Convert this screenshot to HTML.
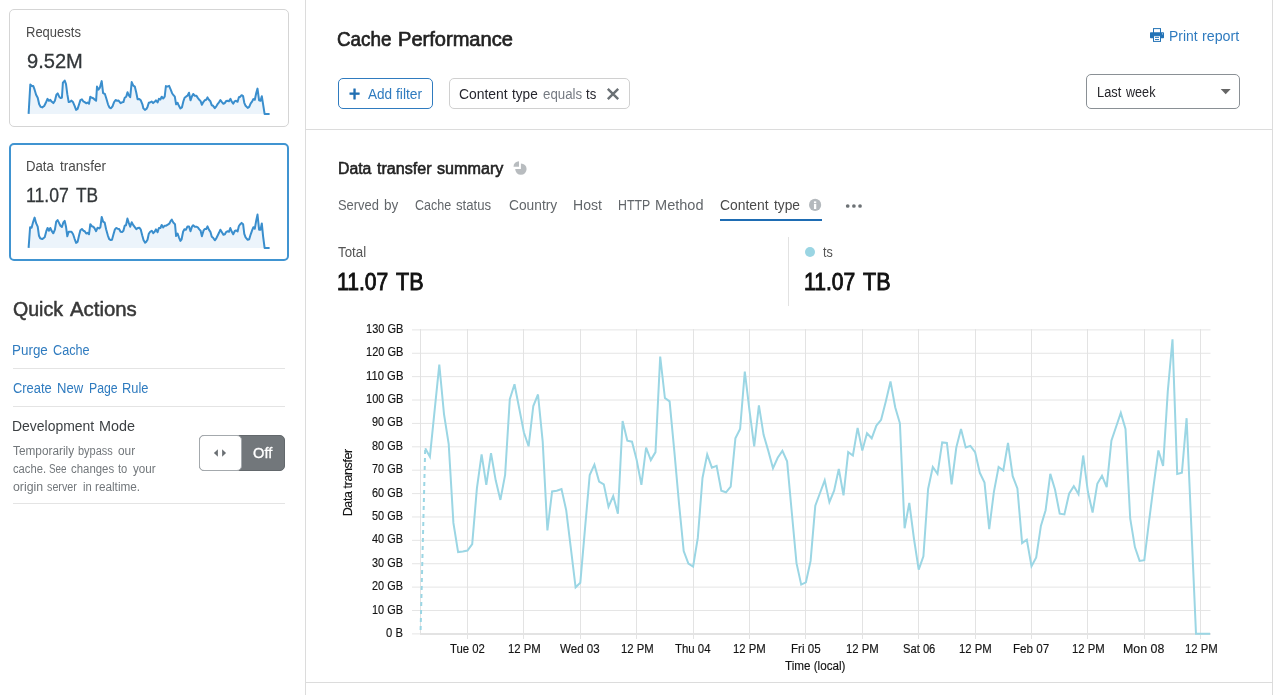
<!DOCTYPE html>
<html lang="en"><head><meta charset="utf-8"><title>Cache Performance</title>
<style>
html,body{margin:0;padding:0;background:#fff;}
body{width:1285px;height:695px;position:relative;overflow:hidden;font-family:"Liberation Sans", Arial, sans-serif;}
.t{position:absolute;white-space:nowrap;display:block;transform-origin:0 50%;}
.abs{position:absolute;box-sizing:border-box;}
svg{position:absolute;left:0;top:0;}
</style></head><body>
<div class="abs" style="left:305px;top:0;width:1px;height:695px;background:#dcdcdc"></div>
<div class="abs" style="left:1272px;top:0;width:1px;height:695px;background:#dcdcdc"></div>
<div class="abs" style="left:306px;top:129px;width:966px;height:1px;background:#dcdcdc"></div>
<div class="abs" style="left:306px;top:682px;width:966px;height:1px;background:#dcdcdc"></div>
<!-- cards -->
<div class="abs" style="left:9px;top:9px;width:280px;height:118px;border:1px solid #d5d5d5;border-radius:5px"></div>
<div class="abs" style="left:9px;top:143px;width:280px;height:118px;border:2px solid #4094d1;border-radius:5px"></div>
<!-- quick action dividers -->
<div class="abs" style="left:13px;top:368px;width:272px;height:1px;background:#e4e4e4"></div>
<div class="abs" style="left:13px;top:406px;width:272px;height:1px;background:#e4e4e4"></div>
<div class="abs" style="left:13px;top:503px;width:272px;height:1px;background:#e4e4e4"></div>
<!-- toggle -->
<div class="abs" style="left:199px;top:435px;width:86px;height:36px;border:1px solid #63686c;border-radius:5px;background:#72777b"></div>
<div class="abs" style="left:199px;top:435px;width:43px;height:36px;border:1px solid #a4a9ad;border-radius:5px;background:#fff"></div>
<!-- buttons -->
<div class="abs" style="left:338px;top:78px;width:95px;height:31px;border:1px solid #2f7bbf;border-radius:5px"></div>
<div class="abs" style="left:449px;top:78px;width:181px;height:31px;border:1px solid #d0d0d0;border-radius:5px"></div>
<div class="abs" style="left:1086px;top:74px;width:154px;height:35px;border:1px solid #8a9095;border-radius:5px"></div>
<!-- tab underline / divider -->
<div class="abs" style="left:720px;top:219px;width:102px;height:2px;background:#1e6cb3"></div>
<div class="abs" style="left:788px;top:237px;width:1px;height:69px;background:#e2e2e2"></div>
<div class="abs" style="left:805px;top:247px;width:10px;height:10px;border-radius:50%;background:#9ad5e3"></div>
<svg width="1285" height="695" viewBox="0 0 1285 695">
<polygon points="28.6,113.9 30.3,84.6 31.9,86.1 33.3,86.1 34.6,89.7 36.1,94.7 37.7,97.8 39.2,104.3 40.7,106.9 42.2,107.4 44.2,106.0 45.8,102.8 47.5,98.8 48.8,100.8 50.3,99.8 51.8,101.8 53.3,103.1 54.9,100.8 56.4,94.7 57.7,93.4 59.2,96.7 60.6,98.1 61.9,97.8 62.9,82.6 64.7,80.6 66.0,84.1 67.3,94.2 68.7,102.1 70.0,101.8 71.5,100.6 73.1,102.3 74.6,105.8 76.1,109.9 77.6,108.9 79.1,104.3 80.4,100.1 81.9,99.3 83.2,101.3 84.7,102.1 86.2,103.3 87.5,102.5 89.0,103.8 90.3,96.7 91.8,97.8 93.3,98.3 94.8,99.8 96.1,100.8 97.0,86.6 98.4,89.7 99.9,87.6 101.7,81.1 103.1,93.2 104.9,94.0 106.4,98.8 108.0,104.3 109.5,107.6 111.0,108.2 112.5,106.3 114.0,102.3 115.6,100.0 117.1,100.8 118.6,100.6 120.6,103.1 122.1,102.3 123.4,102.1 124.7,97.8 126.2,96.7 127.5,92.2 128.7,95.2 130.2,97.2 131.7,82.1 133.3,85.6 134.8,86.6 136.3,92.7 137.6,99.3 139.3,99.1 140.8,100.3 142.4,104.3 143.4,108.4 144.9,109.9 146.4,108.9 147.5,106.9 148.8,102.8 150.0,102.5 151.6,101.5 153.1,103.1 154.6,101.8 155.9,100.3 157.6,102.5 158.9,98.8 160.4,99.5 161.7,96.7 163.2,98.5 164.7,96.7 165.9,86.1 167.2,86.6 169.1,85.9 170.5,89.2 172.1,93.2 173.5,95.2 174.8,96.7 176.1,104.3 177.6,102.8 178.9,105.8 180.4,108.4 181.9,107.4 183.4,101.3 184.6,97.8 186.0,96.7 187.5,95.7 189.0,92.7 190.5,100.3 192.0,96.2 193.2,94.0 194.8,95.7 196.3,95.7 197.8,97.8 199.3,99.8 200.6,101.1 201.9,104.8 203.5,101.8 204.7,100.3 206.2,99.8 207.5,97.4 208.9,99.8 210.4,101.3 211.8,105.3 213.1,105.8 214.8,108.2 216.3,106.3 217.8,103.8 219.0,102.3 220.4,100.1 221.9,102.1 223.4,103.8 224.9,102.8 226.1,101.1 227.7,100.8 229.0,101.3 230.5,98.8 231.8,101.8 233.2,103.8 234.8,101.1 236.0,100.8 237.6,101.8 238.9,97.2 240.3,96.7 241.6,95.2 243.1,96.2 244.3,102.8 245.6,105.8 247.7,107.9 249.2,106.9 250.7,103.3 252.2,101.3 253.4,99.1 254.8,99.8 256.3,92.7 257.5,88.6 259.1,100.3 260.5,100.8 261.8,96.2 263.1,104.3 264.6,113.9 269.6,113.9 269.6,113.9 28.6,113.9" fill="#ecf4fb"/>
<polyline points="28.6,113.9 30.3,84.6 31.9,86.1 33.3,86.1 34.6,89.7 36.1,94.7 37.7,97.8 39.2,104.3 40.7,106.9 42.2,107.4 44.2,106.0 45.8,102.8 47.5,98.8 48.8,100.8 50.3,99.8 51.8,101.8 53.3,103.1 54.9,100.8 56.4,94.7 57.7,93.4 59.2,96.7 60.6,98.1 61.9,97.8 62.9,82.6 64.7,80.6 66.0,84.1 67.3,94.2 68.7,102.1 70.0,101.8 71.5,100.6 73.1,102.3 74.6,105.8 76.1,109.9 77.6,108.9 79.1,104.3 80.4,100.1 81.9,99.3 83.2,101.3 84.7,102.1 86.2,103.3 87.5,102.5 89.0,103.8 90.3,96.7 91.8,97.8 93.3,98.3 94.8,99.8 96.1,100.8 97.0,86.6 98.4,89.7 99.9,87.6 101.7,81.1 103.1,93.2 104.9,94.0 106.4,98.8 108.0,104.3 109.5,107.6 111.0,108.2 112.5,106.3 114.0,102.3 115.6,100.0 117.1,100.8 118.6,100.6 120.6,103.1 122.1,102.3 123.4,102.1 124.7,97.8 126.2,96.7 127.5,92.2 128.7,95.2 130.2,97.2 131.7,82.1 133.3,85.6 134.8,86.6 136.3,92.7 137.6,99.3 139.3,99.1 140.8,100.3 142.4,104.3 143.4,108.4 144.9,109.9 146.4,108.9 147.5,106.9 148.8,102.8 150.0,102.5 151.6,101.5 153.1,103.1 154.6,101.8 155.9,100.3 157.6,102.5 158.9,98.8 160.4,99.5 161.7,96.7 163.2,98.5 164.7,96.7 165.9,86.1 167.2,86.6 169.1,85.9 170.5,89.2 172.1,93.2 173.5,95.2 174.8,96.7 176.1,104.3 177.6,102.8 178.9,105.8 180.4,108.4 181.9,107.4 183.4,101.3 184.6,97.8 186.0,96.7 187.5,95.7 189.0,92.7 190.5,100.3 192.0,96.2 193.2,94.0 194.8,95.7 196.3,95.7 197.8,97.8 199.3,99.8 200.6,101.1 201.9,104.8 203.5,101.8 204.7,100.3 206.2,99.8 207.5,97.4 208.9,99.8 210.4,101.3 211.8,105.3 213.1,105.8 214.8,108.2 216.3,106.3 217.8,103.8 219.0,102.3 220.4,100.1 221.9,102.1 223.4,103.8 224.9,102.8 226.1,101.1 227.7,100.8 229.0,101.3 230.5,98.8 231.8,101.8 233.2,103.8 234.8,101.1 236.0,100.8 237.6,101.8 238.9,97.2 240.3,96.7 241.6,95.2 243.1,96.2 244.3,102.8 245.6,105.8 247.7,107.9 249.2,106.9 250.7,103.3 252.2,101.3 253.4,99.1 254.8,99.8 256.3,92.7 257.5,88.6 259.1,100.3 260.5,100.8 261.8,96.2 263.1,104.3 264.6,113.9 269.6,113.9" fill="none" stroke="#3a8ecd" stroke-width="2" stroke-linejoin="round" stroke-linecap="butt"/>
<polygon points="28.6,247.9 30.1,227.2 31.6,227.7 33.1,222.1 34.6,217.6 36.1,223.2 37.7,226.7 39.0,235.8 40.2,238.3 42.2,239.1 44.7,237.3 46.3,231.2 47.6,228.0 49.0,230.7 50.3,228.0 51.8,231.2 53.3,233.3 54.9,229.7 56.2,221.6 57.6,220.1 58.9,222.6 60.4,225.7 61.9,227.0 63.5,222.1 64.7,220.9 66.0,226.7 67.3,236.3 68.7,231.8 70.0,231.8 71.5,231.8 73.1,234.3 74.6,238.8 76.1,242.9 77.6,241.9 79.1,235.3 80.4,230.2 81.9,229.0 83.4,230.7 84.7,231.2 86.2,233.5 87.5,232.8 89.0,234.3 90.3,224.2 91.8,226.2 93.3,226.7 94.8,228.7 96.1,231.2 97.6,227.7 99.1,228.4 100.4,227.2 101.7,216.9 103.1,221.6 104.7,222.6 106.1,229.2 107.8,235.3 109.2,239.1 110.8,240.1 112.0,239.8 113.5,234.3 114.8,229.7 116.1,228.0 117.6,228.7 119.1,229.0 120.6,231.8 122.1,232.1 123.4,230.7 124.7,225.7 126.0,225.2 127.4,218.6 128.7,222.6 130.2,226.7 131.7,222.3 133.3,225.2 134.8,227.2 136.3,229.2 137.8,228.0 139.3,227.7 140.8,229.7 142.2,235.3 143.6,240.3 145.1,242.6 146.4,241.6 147.5,239.8 148.8,233.8 150.2,231.8 151.8,230.7 153.3,233.1 154.6,231.8 155.9,229.4 157.6,232.1 158.9,228.0 160.4,228.0 161.7,225.0 163.2,227.4 164.7,225.7 166.2,225.7 167.8,224.7 169.3,223.7 170.6,221.1 171.8,219.6 173.3,222.6 175.0,224.2 176.1,236.1 177.6,233.5 178.9,237.3 180.4,240.9 181.6,239.3 183.1,231.8 184.4,229.2 186.0,229.7 187.5,226.4 189.0,226.4 190.5,231.2 192.0,226.7 193.2,225.2 194.8,226.7 196.3,226.7 197.8,227.4 199.3,229.4 200.6,230.7 201.9,236.3 203.5,230.7 204.7,229.0 206.2,229.0 207.5,226.4 208.9,229.7 210.4,231.8 211.8,236.8 213.1,237.8 214.8,240.3 216.3,238.3 217.8,235.3 219.0,232.8 220.4,229.7 221.9,232.3 223.4,234.8 224.9,234.3 226.1,232.1 227.7,231.2 229.0,231.8 230.3,228.0 231.8,231.8 233.2,234.3 234.8,231.0 236.0,230.4 237.6,231.4 238.9,226.0 240.3,224.2 241.6,222.9 243.1,224.2 244.3,233.8 245.6,237.3 247.7,239.8 249.2,239.3 250.7,234.3 252.2,230.2 253.4,227.2 254.8,228.7 256.3,220.1 257.5,214.6 259.1,229.7 260.5,229.7 261.8,223.4 263.1,236.3 264.6,247.9 269.6,247.9 269.6,247.9 28.6,247.9" fill="#ecf4fb"/>
<polyline points="28.6,247.9 30.1,227.2 31.6,227.7 33.1,222.1 34.6,217.6 36.1,223.2 37.7,226.7 39.0,235.8 40.2,238.3 42.2,239.1 44.7,237.3 46.3,231.2 47.6,228.0 49.0,230.7 50.3,228.0 51.8,231.2 53.3,233.3 54.9,229.7 56.2,221.6 57.6,220.1 58.9,222.6 60.4,225.7 61.9,227.0 63.5,222.1 64.7,220.9 66.0,226.7 67.3,236.3 68.7,231.8 70.0,231.8 71.5,231.8 73.1,234.3 74.6,238.8 76.1,242.9 77.6,241.9 79.1,235.3 80.4,230.2 81.9,229.0 83.4,230.7 84.7,231.2 86.2,233.5 87.5,232.8 89.0,234.3 90.3,224.2 91.8,226.2 93.3,226.7 94.8,228.7 96.1,231.2 97.6,227.7 99.1,228.4 100.4,227.2 101.7,216.9 103.1,221.6 104.7,222.6 106.1,229.2 107.8,235.3 109.2,239.1 110.8,240.1 112.0,239.8 113.5,234.3 114.8,229.7 116.1,228.0 117.6,228.7 119.1,229.0 120.6,231.8 122.1,232.1 123.4,230.7 124.7,225.7 126.0,225.2 127.4,218.6 128.7,222.6 130.2,226.7 131.7,222.3 133.3,225.2 134.8,227.2 136.3,229.2 137.8,228.0 139.3,227.7 140.8,229.7 142.2,235.3 143.6,240.3 145.1,242.6 146.4,241.6 147.5,239.8 148.8,233.8 150.2,231.8 151.8,230.7 153.3,233.1 154.6,231.8 155.9,229.4 157.6,232.1 158.9,228.0 160.4,228.0 161.7,225.0 163.2,227.4 164.7,225.7 166.2,225.7 167.8,224.7 169.3,223.7 170.6,221.1 171.8,219.6 173.3,222.6 175.0,224.2 176.1,236.1 177.6,233.5 178.9,237.3 180.4,240.9 181.6,239.3 183.1,231.8 184.4,229.2 186.0,229.7 187.5,226.4 189.0,226.4 190.5,231.2 192.0,226.7 193.2,225.2 194.8,226.7 196.3,226.7 197.8,227.4 199.3,229.4 200.6,230.7 201.9,236.3 203.5,230.7 204.7,229.0 206.2,229.0 207.5,226.4 208.9,229.7 210.4,231.8 211.8,236.8 213.1,237.8 214.8,240.3 216.3,238.3 217.8,235.3 219.0,232.8 220.4,229.7 221.9,232.3 223.4,234.8 224.9,234.3 226.1,232.1 227.7,231.2 229.0,231.8 230.3,228.0 231.8,231.8 233.2,234.3 234.8,231.0 236.0,230.4 237.6,231.4 238.9,226.0 240.3,224.2 241.6,222.9 243.1,224.2 244.3,233.8 245.6,237.3 247.7,239.8 249.2,239.3 250.7,234.3 252.2,230.2 253.4,227.2 254.8,228.7 256.3,220.1 257.5,214.6 259.1,229.7 260.5,229.7 261.8,223.4 263.1,236.3 264.6,247.9 269.6,247.9" fill="none" stroke="#3a8ecd" stroke-width="2" stroke-linejoin="round" stroke-linecap="butt"/>
<line x1="412" x2="1210.5" y1="329.88" y2="329.88" stroke="#e5e5e5" stroke-width="1"/>
<line x1="412" x2="1210.5" y1="353.26" y2="353.26" stroke="#e5e5e5" stroke-width="1"/>
<line x1="412" x2="1210.5" y1="376.65" y2="376.65" stroke="#e5e5e5" stroke-width="1"/>
<line x1="412" x2="1210.5" y1="400.03" y2="400.03" stroke="#e5e5e5" stroke-width="1"/>
<line x1="412" x2="1210.5" y1="423.42" y2="423.42" stroke="#e5e5e5" stroke-width="1"/>
<line x1="412" x2="1210.5" y1="446.81" y2="446.81" stroke="#e5e5e5" stroke-width="1"/>
<line x1="412" x2="1210.5" y1="470.19" y2="470.19" stroke="#e5e5e5" stroke-width="1"/>
<line x1="412" x2="1210.5" y1="493.58" y2="493.58" stroke="#e5e5e5" stroke-width="1"/>
<line x1="412" x2="1210.5" y1="516.96" y2="516.96" stroke="#e5e5e5" stroke-width="1"/>
<line x1="412" x2="1210.5" y1="540.35" y2="540.35" stroke="#e5e5e5" stroke-width="1"/>
<line x1="412" x2="1210.5" y1="563.73" y2="563.73" stroke="#e5e5e5" stroke-width="1"/>
<line x1="412" x2="1210.5" y1="587.12" y2="587.12" stroke="#e5e5e5" stroke-width="1"/>
<line x1="412" x2="1210.5" y1="610.50" y2="610.50" stroke="#e5e5e5" stroke-width="1"/>
<line x1="412" x2="1210.5" y1="633.88" y2="633.88" stroke="#e5e5e5" stroke-width="1"/>
<rect x="420" y="633" width="790.5" height="2" fill="#e3e3e3"/>
<rect x="420" y="329" width="1" height="305" fill="#e2e2e2"/>
<rect x="467" y="329" width="1" height="310" fill="#e3e3e3"/>
<rect x="523" y="329" width="1" height="310" fill="#e3e3e3"/>
<rect x="580" y="329" width="1" height="310" fill="#e3e3e3"/>
<rect x="636" y="329" width="1" height="310" fill="#e3e3e3"/>
<rect x="693" y="329" width="1" height="310" fill="#e3e3e3"/>
<rect x="749" y="329" width="1" height="310" fill="#e3e3e3"/>
<rect x="805" y="329" width="1" height="310" fill="#e3e3e3"/>
<rect x="862" y="329" width="1" height="310" fill="#e3e3e3"/>
<rect x="918" y="329" width="1" height="310" fill="#e3e3e3"/>
<rect x="975" y="329" width="1" height="310" fill="#e3e3e3"/>
<rect x="1031" y="329" width="1" height="310" fill="#e3e3e3"/>
<rect x="1087" y="329" width="1" height="310" fill="#e3e3e3"/>
<rect x="1144" y="329" width="1" height="310" fill="#e3e3e3"/>
<rect x="1200" y="329" width="1" height="310" fill="#e3e3e3"/>
<line x1="420.6" y1="630" x2="425.2" y2="448.2" stroke="#9bd6e4" stroke-width="2" stroke-dasharray="4,4"/>
<polyline points="425.2,448.2 429.9,456.7 434.6,410.6 439.3,364.6 444.0,414.1 448.7,444.0 453.4,522.9 458.1,552.1 462.8,551.4 467.5,550.5 472.2,544.1 476.9,488.4 481.6,454.4 486.3,484.9 491.0,453.2 495.7,480.3 500.4,499.9 505.1,475.0 509.8,399.1 514.5,384.2 519.2,408.3 523.9,432.5 528.6,446.3 533.3,406.0 538.0,394.5 542.7,441.7 547.4,530.5 552.1,491.4 556.8,490.7 561.5,489.0 566.2,510.2 570.9,548.7 575.6,587.3 580.3,582.7 585.0,528.6 589.7,475.1 594.4,464.7 599.1,481.5 603.8,484.4 608.5,506.8 613.2,496.0 617.9,513.7 622.6,421.0 627.3,440.6 632.0,441.7 636.7,460.1 641.4,484.9 646.1,447.5 650.8,460.1 655.5,452.1 660.2,356.5 664.9,398.0 669.6,401.4 674.3,450.9 679.0,503.3 683.7,551.0 688.4,563.6 693.1,566.6 697.8,537.9 702.5,478.0 707.2,454.4 711.9,467.7 716.6,465.9 721.3,490.7 726.0,492.3 730.7,486.7 735.4,438.3 740.1,429.0 744.8,371.5 749.5,410.6 754.2,446.3 758.9,405.3 763.6,434.8 768.3,450.9 773.0,468.2 777.7,457.8 782.4,450.9 787.1,461.3 791.8,512.5 796.5,563.2 801.2,584.6 805.9,582.3 810.6,560.9 815.3,505.6 820.0,493.0 824.7,480.3 829.4,502.2 834.1,490.7 838.8,468.9 843.5,495.3 848.2,452.1 852.9,455.5 857.6,427.9 862.3,450.5 867.0,433.2 871.7,438.3 876.4,425.6 881.1,419.8 885.8,401.4 890.5,381.4 895.2,407.2 899.9,423.3 904.6,528.2 909.3,502.9 914.0,539.0 918.7,569.6 923.4,556.3 928.1,489.0 932.8,467.0 937.5,473.9 942.2,442.4 946.9,442.9 951.6,484.4 956.3,447.5 961.0,429.0 965.7,447.5 970.4,445.9 975.1,452.1 979.8,472.8 984.5,482.6 989.2,529.1 993.9,491.8 998.6,467.0 1003.3,470.5 1008.0,442.9 1012.7,476.2 1017.4,488.4 1022.1,543.1 1026.8,539.7 1031.5,566.2 1036.2,557.4 1040.9,525.9 1045.6,510.2 1050.3,473.9 1055.0,489.5 1059.7,513.7 1064.4,514.4 1069.1,493.7 1073.8,486.1 1078.5,494.1 1083.2,455.5 1087.9,491.8 1092.6,512.5 1097.3,483.8 1102.0,475.8 1106.7,487.2 1111.4,440.6 1116.1,426.7 1120.8,412.9 1125.5,429.0 1130.2,518.3 1134.9,547.1 1139.6,560.9 1144.3,560.2 1149.0,521.7 1153.7,484.9 1158.4,450.5 1163.1,465.9 1167.8,391.1 1172.5,339.3 1177.2,473.9 1181.9,472.8 1186.6,418.2 1191.3,525.9 1196.0,633.8 1200.7,633.8 1205.4,633.8 1210.1,633.8" fill="none" stroke="#9bd6e4" stroke-width="2"/>
<!-- toggle arrows -->
<polygon points="213.9,453 217.9,449.3 217.9,456.7" fill="#6a6f73"/>
<polygon points="226.1,453 222.1,449.3 222.1,456.7" fill="#6a6f73"/>
<!-- close X -->
<path d="M607.8 88.8 L618.2 99.2 M618.2 88.8 L607.8 99.2" stroke="#6a7074" stroke-width="2.4" fill="none"/>
<!-- select arrow -->
<polygon points="1220.7,89 1230.7,89 1225.7,94.2" fill="#666"/>
<!-- pie icon -->
<g fill="#b8bcbf"><path d="M520.9 169.1 L520.9 163.4 A5.7 5.7 0 1 1 515.2 169.1 Z"/><path d="M519 166.7 L513.5 166.7 A5.5 5.5 0 0 1 519 161.2 Z"/></g>
<!-- info icon -->
<circle cx="815.1" cy="204.9" r="6.1" fill="#b4b9bd"/><rect x="813.95" y="203.9" width="2.3" height="5.1" fill="#fff"/><rect x="813.95" y="201.4" width="2.3" height="1.7" fill="#fff"/>
<!-- ellipsis -->
<circle cx="847.7" cy="206" r="1.85" fill="#6c7175"/><circle cx="853.9" cy="206" r="1.85" fill="#6c7175"/><circle cx="860.05" cy="206" r="1.85" fill="#6c7175"/>
<!-- printer icon -->
<g><rect x="1153.5" y="28.6" width="7" height="5" fill="#fff" stroke="#2373b6" stroke-width="1"/><rect x="1150" y="32.3" width="14" height="6" rx="0.8" fill="#2373b6"/><rect x="1153.5" y="35.7" width="7" height="5.7" fill="#fff" stroke="#2373b6" stroke-width="1"/><rect x="1155" y="36.9" width="4" height="0.9" fill="#2373b6"/><rect x="1155" y="39.1" width="4" height="0.9" fill="#2373b6"/><rect x="1162" y="33.4" width="0.8" height="1" fill="#fff"/></g>
<text x="352.3" y="482.5" transform="rotate(-90 352.3 482.5)" text-anchor="middle" font-family='"Liberation Sans", Arial, sans-serif' font-size="12.5" fill="#141414" stroke="#141414" stroke-width="0.15" textLength="67.6" lengthAdjust="spacing">Data transfer</text>
</svg>
<div><span id="t_req" class="t" style="left:26.07px;top:22px;font-size:14.0px;line-height:20px;color:#4a4a4a;transform:scaleX(0.9287)">Requests</span></div>
<div><span id="t_reqv" class="t" style="left:27.10px;top:48px;font-size:20.35px;line-height:26px;color:#33373a;-webkit-text-stroke:0.3px #33373a;transform:scaleX(0.9875)">9.52M</span></div>
<div><span id="t_dt_0" class="t" style="left:26.16px;top:156px;font-size:14.0px;line-height:20px;color:#4a4a4a;transform:scaleX(0.9414)">Data</span> <span id="t_dt_1" class="t" style="left:59.80px;top:156px;font-size:14.0px;line-height:20px;color:#4a4a4a;transform:scaleX(0.9686)">transfer</span></div>
<div><span id="t_dtv_0" class="t" style="left:25.93px;top:182px;font-size:20.35px;line-height:26px;color:#33373a;-webkit-text-stroke:0.3px #33373a;transform:scaleX(0.8672)">11.07</span> <span id="t_dtv_1" class="t" style="left:75.60px;top:182px;font-size:20.35px;line-height:26px;color:#33373a;-webkit-text-stroke:0.3px #33373a;transform:scaleX(0.8495)">TB</span></div>
<div><span id="t_qa_0" class="t" style="left:13.06px;top:296px;font-size:20.0px;line-height:26px;color:#383838;-webkit-text-stroke:0.5px #383838;transform:scaleX(0.9792)">Quick</span> <span id="t_qa_1" class="t" style="left:70.30px;top:296px;font-size:20.0px;line-height:26px;color:#383838;-webkit-text-stroke:0.5px #383838;transform:scaleX(1.0185)">Actions</span></div>
<div><span id="t_pc_0" class="t" style="left:12.29px;top:340px;font-size:14.0px;line-height:20px;color:#2f7bbf;transform:scaleX(0.9584)">Purge</span> <span id="t_pc_1" class="t" style="left:52.90px;top:340px;font-size:14.0px;line-height:20px;color:#2f7bbf;transform:scaleX(0.9046)">Cache</span></div>
<div><span id="t_cn_0" class="t" style="left:12.90px;top:378px;font-size:14.0px;line-height:20px;color:#2f7bbf;transform:scaleX(0.9211)">Create</span> <span id="t_cn_1" class="t" style="left:56.67px;top:378px;font-size:14.0px;line-height:20px;color:#2f7bbf;transform:scaleX(0.9320)">New</span> <span id="t_cn_2" class="t" style="left:88.62px;top:378px;font-size:14.0px;line-height:20px;color:#2f7bbf;transform:scaleX(0.8775)">Page</span> <span id="t_cn_3" class="t" style="left:122.08px;top:378px;font-size:14.0px;line-height:20px;color:#2f7bbf;transform:scaleX(0.9176)">Rule</span></div>
<div><span id="t_dm_0" class="t" style="left:12.20px;top:416px;font-size:14.0px;line-height:20px;color:#3b3f42;transform:scaleX(0.9969)">Development</span> <span id="t_dm_1" class="t" style="left:99.12px;top:416px;font-size:14.0px;line-height:20px;color:#3b3f42;transform:scaleX(1.0267)">Mode</span></div>
<div><span id="t_d1_0" class="t" style="left:12.70px;top:442px;font-size:12.0px;line-height:18px;color:#72777b;transform:scaleX(0.9844)">Temporarily</span> <span id="t_d1_1" class="t" style="left:78.40px;top:442px;font-size:12.0px;line-height:18px;color:#72777b;transform:scaleX(0.9153)">bypass</span> <span id="t_d1_2" class="t" style="left:117.60px;top:442px;font-size:12.0px;line-height:18px;color:#72777b;transform:scaleX(0.9915)">our</span></div>
<div><span id="t_d2_0" class="t" style="left:12.70px;top:460px;font-size:12.0px;line-height:18px;color:#72777b;transform:scaleX(0.9337)">cache.</span> <span id="t_d2_1" class="t" style="left:49.10px;top:460px;font-size:12.0px;line-height:18px;color:#72777b;transform:scaleX(0.8211)">See</span> <span id="t_d2_2" class="t" style="left:71.10px;top:460px;font-size:12.0px;line-height:18px;color:#72777b;transform:scaleX(0.9500)">changes</span> <span id="t_d2_3" class="t" style="left:118.20px;top:460px;font-size:12.0px;line-height:18px;color:#72777b;transform:scaleX(0.9290)">to</span> <span id="t_d2_4" class="t" style="left:132.90px;top:460px;font-size:12.0px;line-height:18px;color:#72777b;transform:scaleX(0.9723)">your</span></div>
<div><span id="t_d3_0" class="t" style="left:12.70px;top:478px;font-size:12.0px;line-height:18px;color:#72777b;transform:scaleX(1.0287)">origin</span> <span id="t_d3_1" class="t" style="left:47.20px;top:478px;font-size:12.0px;line-height:18px;color:#72777b;transform:scaleX(0.8967)">server</span> <span id="t_d3_2" class="t" style="left:82.70px;top:478px;font-size:12.0px;line-height:18px;color:#72777b;transform:scaleX(0.9347)">in</span> <span id="t_d3_3" class="t" style="left:95.20px;top:478px;font-size:12.0px;line-height:18px;color:#72777b;transform:scaleX(0.9807)">realtime.</span></div>
<div><span id="t_off" class="t" style="left:253.20px;top:443px;font-size:14.0px;line-height:20px;color:#fff;-webkit-text-stroke:0.3px #fff;transform:scaleX(1.0472)">Off</span></div>
<div><span id="t_cp_0" class="t" style="left:337.11px;top:26px;font-size:19.7px;line-height:26px;color:#222;-webkit-text-stroke:0.65px #222;transform:scaleX(0.9566)">Cache</span> <span id="t_cp_1" class="t" style="left:397.68px;top:26px;font-size:19.7px;line-height:26px;color:#222;-webkit-text-stroke:0.65px #222;transform:scaleX(1.0192)">Performance</span></div>
<div><span id="t_pr_0" class="t" style="left:1168.91px;top:26px;font-size:14.0px;line-height:20px;color:#2f7bbf;transform:scaleX(0.9930)">Print</span> <span id="t_pr_1" class="t" style="left:1202.30px;top:26px;font-size:14.0px;line-height:20px;color:#2f7bbf;transform:scaleX(1.0182)">report</span></div>
<div><span id="t_plus" class="t" style="left:349.06px;top:80px;font-size:21.0px;line-height:27px;color:#2270b3;-webkit-text-stroke:0.9px #2270b3;transform:scaleX(0.9036)">+</span></div>
<div><span id="t_af_0" class="t" style="left:367.65px;top:84px;font-size:14.0px;line-height:20px;color:#2f7bbf;transform:scaleX(0.9700)">Add</span> <span id="t_af_1" class="t" style="left:396.30px;top:84px;font-size:14.0px;line-height:20px;color:#2f7bbf;transform:scaleX(0.9893)">filter</span></div>
<div><span id="t_ct_0" class="t" style="left:458.50px;top:84px;font-size:14.0px;line-height:20px;color:#26262e;transform:scaleX(0.9930)">Content</span> <span id="t_ct_1" class="t" style="left:512.30px;top:84px;font-size:14.0px;line-height:20px;color:#26262e;transform:scaleX(0.9709)">type</span></div>
<div><span id="t_eq" class="t" style="left:542.80px;top:84px;font-size:14.0px;line-height:20px;color:#767b83;transform:scaleX(0.9502)">equals</span></div>
<div><span id="t_ts" class="t" style="left:586.10px;top:84px;font-size:14.0px;line-height:20px;color:#26262e;transform:scaleX(0.9367)">ts</span></div>
<div><span id="t_lw_0" class="t" style="left:1096.58px;top:82px;font-size:14.0px;line-height:20px;color:#26262b;transform:scaleX(0.9151)">Last</span> <span id="t_lw_1" class="t" style="left:1125.70px;top:82px;font-size:14.0px;line-height:20px;color:#26262b;transform:scaleX(0.9010)">week</span></div>
<div><span id="t_dts_0" class="t" style="left:337.50px;top:158px;font-size:15.8px;line-height:21px;color:#222;-webkit-text-stroke:0.55px #222;transform:scaleX(1.0005)">Data</span> <span id="t_dts_1" class="t" style="left:376.70px;top:158px;font-size:15.8px;line-height:21px;color:#222;-webkit-text-stroke:0.55px #222;transform:scaleX(1.0208)">transfer</span> <span id="t_dts_2" class="t" style="left:437.00px;top:158px;font-size:15.8px;line-height:21px;color:#222;-webkit-text-stroke:0.55px #222;transform:scaleX(1.0223)">summary</span></div>
<div><span id="t_sb_0" class="t" style="left:338.00px;top:195px;font-size:14.0px;line-height:20px;color:#62666a;transform:scaleX(0.9226)">Served</span> <span id="t_sb_1" class="t" style="left:383.80px;top:195px;font-size:14.0px;line-height:20px;color:#62666a;transform:scaleX(0.9671)">by</span></div>
<div><span id="t_cs_0" class="t" style="left:414.70px;top:195px;font-size:14.0px;line-height:20px;color:#62666a;transform:scaleX(0.8947)">Cache</span> <span id="t_cs_1" class="t" style="left:456.00px;top:195px;font-size:14.0px;line-height:20px;color:#62666a;transform:scaleX(0.9424)">status</span></div>
<div><span id="t_co" class="t" style="left:508.50px;top:195px;font-size:14.0px;line-height:20px;color:#62666a;transform:scaleX(0.9833)">Country</span></div>
<div><span id="t_ho" class="t" style="left:573.10px;top:195px;font-size:14.0px;line-height:20px;color:#62666a;transform:scaleX(1.0037)">Host</span></div>
<div><span id="t_hm_0" class="t" style="left:618.02px;top:195px;font-size:14.0px;line-height:20px;color:#62666a;transform:scaleX(0.8803)">HTTP</span> <span id="t_hm_1" class="t" style="left:655.16px;top:195px;font-size:14.0px;line-height:20px;color:#62666a;transform:scaleX(1.0399)">Method</span></div>
<div><span id="t_cty_0" class="t" style="left:719.70px;top:195px;font-size:14.0px;line-height:20px;color:#4a4a4a;transform:scaleX(0.9930)">Content</span> <span id="t_cty_1" class="t" style="left:773.90px;top:195px;font-size:14.0px;line-height:20px;color:#4a4a4a;transform:scaleX(0.9822)">type</span></div>
<div><span id="t_tot" class="t" style="left:338.10px;top:242px;font-size:14.0px;line-height:20px;color:#555;transform:scaleX(0.9504)">Total</span></div>
<div><span id="t_totv_0" class="t" style="left:337.02px;top:266px;font-size:24.0px;line-height:31px;color:#111;-webkit-text-stroke:0.9px #111;transform:scaleX(0.8783)">11.07</span> <span id="t_totv_1" class="t" style="left:395.90px;top:266px;font-size:24.0px;line-height:31px;color:#111;-webkit-text-stroke:0.9px #111;transform:scaleX(0.8968)">TB</span></div>
<div><span id="t_tsl" class="t" style="left:823.20px;top:242px;font-size:14.0px;line-height:20px;color:#555;transform:scaleX(0.8999)">ts</span></div>
<div><span id="t_tsv_0" class="t" style="left:804.02px;top:266px;font-size:24.0px;line-height:31px;color:#111;-webkit-text-stroke:0.9px #111;transform:scaleX(0.8783)">11.07</span> <span id="t_tsv_1" class="t" style="left:862.90px;top:266px;font-size:24.0px;line-height:31px;color:#111;-webkit-text-stroke:0.9px #111;transform:scaleX(0.8968)">TB</span></div>
<div><span id="y0" class="t" style="left:365.80px;top:320px;font-size:12.7px;line-height:18px;color:#141414;-webkit-text-stroke:0.15px #141414;transform:scaleX(0.8693)">130 GB</span></div>
<div><span id="y1" class="t" style="left:365.80px;top:343px;font-size:12.7px;line-height:18px;color:#141414;-webkit-text-stroke:0.15px #141414;transform:scaleX(0.8693)">120 GB</span></div>
<div><span id="y2" class="t" style="left:365.80px;top:367px;font-size:12.7px;line-height:18px;color:#141414;-webkit-text-stroke:0.15px #141414;transform:scaleX(0.8890)">110 GB</span></div>
<div><span id="y3" class="t" style="left:365.80px;top:390px;font-size:12.7px;line-height:18px;color:#141414;-webkit-text-stroke:0.15px #141414;transform:scaleX(0.8693)">100 GB</span></div>
<div><span id="y4" class="t" style="left:372.30px;top:413px;font-size:12.7px;line-height:18px;color:#141414;-webkit-text-stroke:0.15px #141414;transform:scaleX(0.8590)">90 GB</span></div>
<div><span id="y5" class="t" style="left:372.30px;top:437px;font-size:12.7px;line-height:18px;color:#141414;-webkit-text-stroke:0.15px #141414;transform:scaleX(0.8590)">80 GB</span></div>
<div><span id="y6" class="t" style="left:372.30px;top:460px;font-size:12.7px;line-height:18px;color:#141414;-webkit-text-stroke:0.15px #141414;transform:scaleX(0.8590)">70 GB</span></div>
<div><span id="y7" class="t" style="left:372.30px;top:484px;font-size:12.7px;line-height:18px;color:#141414;-webkit-text-stroke:0.15px #141414;transform:scaleX(0.8590)">60 GB</span></div>
<div><span id="y8" class="t" style="left:372.30px;top:507px;font-size:12.7px;line-height:18px;color:#141414;-webkit-text-stroke:0.15px #141414;transform:scaleX(0.8590)">50 GB</span></div>
<div><span id="y9" class="t" style="left:372.30px;top:530px;font-size:12.7px;line-height:18px;color:#141414;-webkit-text-stroke:0.15px #141414;transform:scaleX(0.8590)">40 GB</span></div>
<div><span id="y10" class="t" style="left:372.30px;top:554px;font-size:12.7px;line-height:18px;color:#141414;-webkit-text-stroke:0.15px #141414;transform:scaleX(0.8590)">30 GB</span></div>
<div><span id="y11" class="t" style="left:372.30px;top:577px;font-size:12.7px;line-height:18px;color:#141414;-webkit-text-stroke:0.15px #141414;transform:scaleX(0.8590)">20 GB</span></div>
<div><span id="y12" class="t" style="left:372.30px;top:601px;font-size:12.7px;line-height:18px;color:#141414;-webkit-text-stroke:0.15px #141414;transform:scaleX(0.8590)">10 GB</span></div>
<div><span id="y13" class="t" style="left:386.30px;top:624px;font-size:12.7px;line-height:18px;color:#141414;-webkit-text-stroke:0.15px #141414;transform:scaleX(0.8880)">0 B</span></div>
<div><span id="x0" class="t" style="left:450.06px;top:640px;font-size:12.7px;line-height:18px;color:#141414;-webkit-text-stroke:0.15px #141414;transform:scaleX(0.8949)">Tue 02</span></div>
<div><span id="x1" class="t" style="left:507.77px;top:640px;font-size:12.7px;line-height:18px;color:#141414;-webkit-text-stroke:0.15px #141414;transform:scaleX(0.8935)">12 PM</span></div>
<div><span id="x2" class="t" style="left:560.49px;top:640px;font-size:12.7px;line-height:18px;color:#141414;-webkit-text-stroke:0.15px #141414;transform:scaleX(0.9120)">Wed 03</span></div>
<div><span id="x3" class="t" style="left:620.57px;top:640px;font-size:12.7px;line-height:18px;color:#141414;-webkit-text-stroke:0.15px #141414;transform:scaleX(0.8935)">12 PM</span></div>
<div><span id="x4" class="t" style="left:675.36px;top:640px;font-size:12.7px;line-height:18px;color:#141414;-webkit-text-stroke:0.15px #141414;transform:scaleX(0.8996)">Thu 04</span></div>
<div><span id="x5" class="t" style="left:733.37px;top:640px;font-size:12.7px;line-height:18px;color:#141414;-webkit-text-stroke:0.15px #141414;transform:scaleX(0.8935)">12 PM</span></div>
<div><span id="x6" class="t" style="left:790.67px;top:640px;font-size:12.7px;line-height:18px;color:#141414;-webkit-text-stroke:0.15px #141414;transform:scaleX(0.9124)">Fri 05</span></div>
<div><span id="x7" class="t" style="left:846.17px;top:640px;font-size:12.7px;line-height:18px;color:#141414;-webkit-text-stroke:0.15px #141414;transform:scaleX(0.8935)">12 PM</span></div>
<div><span id="x8" class="t" style="left:902.57px;top:640px;font-size:12.7px;line-height:18px;color:#141414;-webkit-text-stroke:0.15px #141414;transform:scaleX(0.8807)">Sat 06</span></div>
<div><span id="x9" class="t" style="left:958.97px;top:640px;font-size:12.7px;line-height:18px;color:#141414;-webkit-text-stroke:0.15px #141414;transform:scaleX(0.8935)">12 PM</span></div>
<div><span id="x10" class="t" style="left:1012.94px;top:640px;font-size:12.7px;line-height:18px;color:#141414;-webkit-text-stroke:0.15px #141414;transform:scaleX(0.9177)">Feb 07</span></div>
<div><span id="x11" class="t" style="left:1071.77px;top:640px;font-size:12.7px;line-height:18px;color:#141414;-webkit-text-stroke:0.15px #141414;transform:scaleX(0.8935)">12 PM</span></div>
<div><span id="x12" class="t" style="left:1123.16px;top:640px;font-size:12.7px;line-height:18px;color:#141414;-webkit-text-stroke:0.15px #141414;transform:scaleX(0.9772)">Mon 08</span></div>
<div><span id="x13" class="t" style="left:1184.57px;top:640px;font-size:12.7px;line-height:18px;color:#141414;-webkit-text-stroke:0.15px #141414;transform:scaleX(0.8935)">12 PM</span></div>
<div><span id="t_tl" class="t" style="left:785.20px;top:657px;font-size:12.5px;line-height:18px;color:#141414;-webkit-text-stroke:0.15px #141414;transform:scaleX(0.9326)">Time (local)</span></div>
</body></html>
